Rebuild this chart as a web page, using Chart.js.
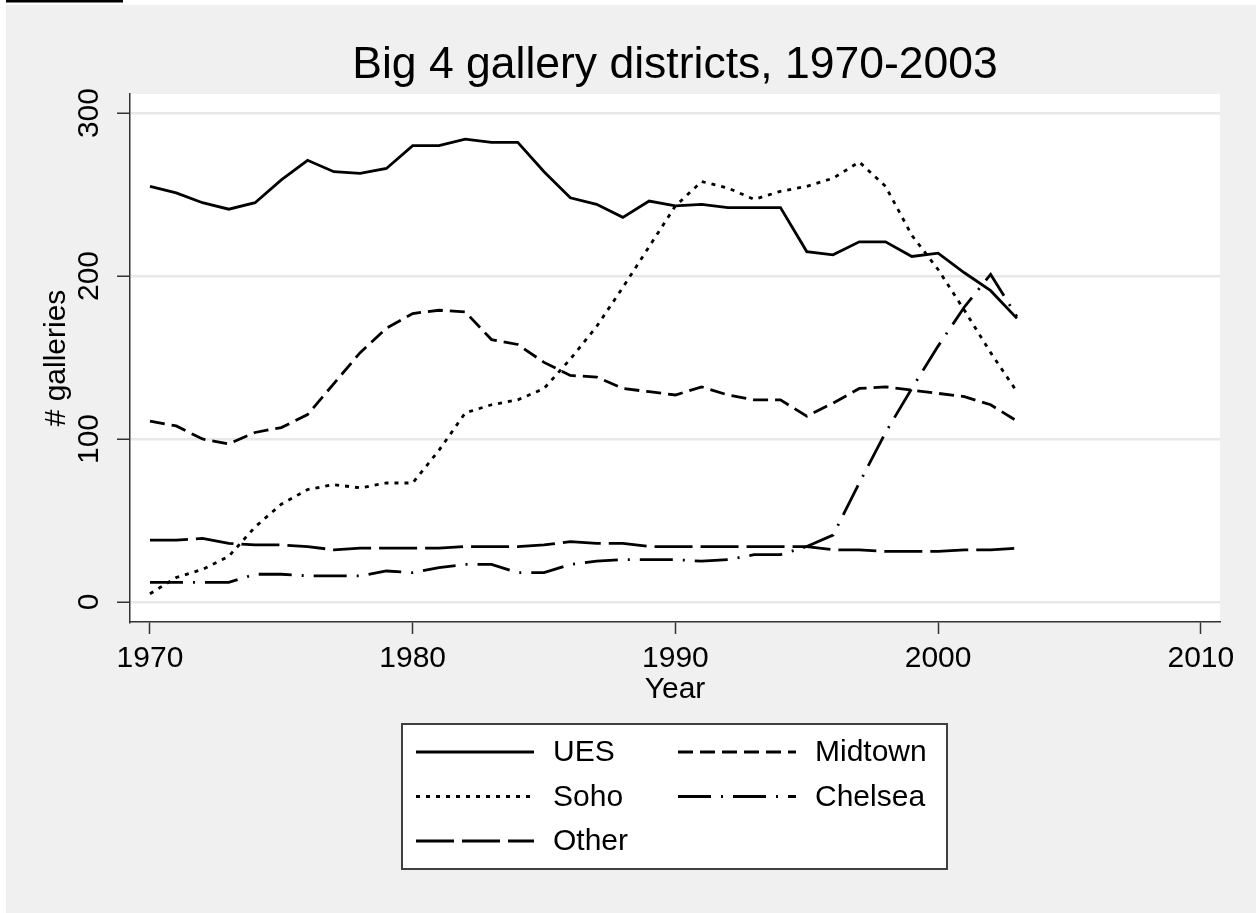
<!DOCTYPE html>
<html>
<head>
<meta charset="utf-8">
<title>Big 4 gallery districts, 1970-2003</title>
<script src="https://cdn.jsdelivr.net/npm/chart.js@4.4.1/dist/chart.umd.min.js"></script>
<style>
    html, body { margin: 0; padding: 0; background: #ffffff; }
    #wrap { width: 1256px; height: 913px; position: relative; }
</style>
</head>
<body>
<div id="wrap"><canvas id="galleryChart" width="1256" height="913"></canvas></div>
<script>
// Years on the x axis
const years = [1970, 1971, 1972, 1973, 1974, 1975, 1976, 1977, 1978, 1979,
               1980, 1981, 1982, 1983, 1984, 1985, 1986, 1987, 1988, 1989,
               1990, 1991, 1992, 1993, 1994, 1995, 1996, 1997, 1998, 1999,
               2000, 2001, 2002, 2003];

// # galleries per district
const ues     = [255, 251, 245, 241, 245, 259, 271, 264, 263, 266,
                 280, 280, 284, 282, 282, 264, 248, 244, 236, 246,
                 243, 244, 242, 242, 242, 215, 213, 221, 221, 212,
                 214, 202, 191, 174];
const midtown = [111, 108, 100, 97, 104, 107, 115, 134, 153, 168,
                 177, 179, 178, 161, 158, 147, 139, 138, 131, 129,
                 127, 132, 127, 124, 124, 114, 122, 131, 132, 130,
                 128, 126, 121, 111];
const soho    = [5, 15, 20, 28, 46, 60, 69, 72, 70, 73,
                 73, 93, 116, 121, 124, 131, 149, 169, 193, 218,
                 243, 258, 254, 247, 252, 255, 260, 270, 255, 225,
                 204, 179, 153, 129];
const chelsea = [12, 12, 12, 12, 17, 17, 16, 16, 16, 19,
                 18, 21, 23, 23, 18, 18, 23, 25, 26, 26,
                 26, 25, 26, 29, 29, 34, 41, 73, 104, 131,
                 157, 181, 201, 175];
const other   = [38, 38, 39, 36, 35, 35, 34, 32, 33, 33,
                 33, 33, 34, 34, 34, 35, 37, 36, 36, 34,
                 34, 34, 34, 34, 34, 34, 32, 32, 31, 31,
                 31, 32, 32, 33];

// Tick labels
const xTicks = [1970, 1980, 1990, 2000, 2010];
const yTicks = [0, 100, 200, 300];

const FONT = "'Liberation Sans', Arial, sans-serif";

function pts(vals) {
    return vals.map((v, i) => ({ x: years[i], y: v }));
}

function series(label, vals, dash) {
    return {
        label: label,
        data: pts(vals),
        borderColor: '#000000',
        borderWidth: 2.8,
        borderDash: dash,
        pointRadius: 0,
        tension: 0,
        fill: false
    };
}

// gray graph region, white plot region
const backdrop = {
    id: 'backdrop',
    beforeDraw(chart) {
        const c = chart.ctx;
        const a = chart.chartArea;
        c.save();
        c.fillStyle = '#ffffff';
        c.fillRect(0, 0, chart.width, chart.height);
        c.fillStyle = '#000000';
        c.fillRect(6, 0, 117, 2.5);
        c.fillStyle = '#f0f0f0';
        c.fillRect(6, 5, chart.width - 6, chart.height - 5);
        c.fillStyle = '#ffffff';
        c.fillRect(a.left, a.top, a.right - a.left, a.bottom - a.top);
        c.restore();
    }
};

// Stata style boxed legend, two columns
const boxLegend = {
    id: 'boxLegend',
    afterDraw(chart) {
        const c = chart.ctx;
        const ds = chart.data.datasets;
        c.save();
        c.fillStyle = '#ffffff';
        c.fillRect(402, 724, 545, 145);
        c.strokeStyle = '#404040';
        c.lineWidth = 2;
        c.strokeRect(402, 724, 545, 145);
        c.font = '30px ' + FONT;
        c.textBaseline = 'middle';
        c.textAlign = 'left';
        ds.forEach((d, i) => {
            const col = i % 2;
            const row = Math.floor(i / 2);
            const x0 = col === 0 ? 416 : 678;
            const y = 752 + row * 44.5;
            c.beginPath();
            c.setLineDash(d.borderDash || []);
            c.strokeStyle = '#000000';
            c.lineWidth = d.borderWidth;
            c.moveTo(x0, y);
            c.lineTo(x0 + 118, y);
            c.stroke();
            c.setLineDash([]);
            c.fillStyle = '#000000';
            c.fillText(d.label, x0 + 137, y + 1);
        });
        c.restore();
    }
};

new Chart(document.getElementById('galleryChart'), {
    type: 'line',
    data: {
        datasets: [
            series('UES', ues, []),
            series('Midtown', midtown, [15, 7]),
            series('Soho', soho, [4, 6]),
            series('Chelsea', chelsea, [33, 10, 2, 10]),
            series('Other', other, [38, 8])
        ]
    },
    options: {
        responsive: false,
        animation: false,
        layout: {
            padding: { top: 0, left: 0, right: 36, bottom: 201 }
        },
        plugins: {
            legend: { display: false },
            tooltip: { enabled: false },
            title: {
                display: true,
                fullSize: false,
                text: 'Big 4 gallery districts, 1970-2003',
                color: '#000000',
                font: { family: FONT, size: 44.5, weight: 'normal', lineHeight: 1.2 },
                padding: { top: 39, bottom: 1.6 }
            }
        },
        scales: {
            x: {
                type: 'linear',
                min: 1969.24,
                max: 2010.73,
                afterBuildTicks: s => { s.ticks = xTicks.map(v => ({ value: v })); },
                afterFit: s => { s.height = 90; },
                grid: {
                    drawOnChartArea: false,
                    drawTicks: true,
                    tickLength: 12,
                    tickColor: '#333333',
                    tickWidth: 1.5
                },
                border: { display: true, color: '#333333', width: 1.5 },
                ticks: {
                    color: '#000000',
                    padding: 7,
                    maxRotation: 0,
                    font: { family: FONT, size: 30 },
                    callback: v => String(v)
                },
                title: {
                    display: true,
                    text: 'Year',
                    color: '#000000',
                    font: { family: FONT, size: 30, lineHeight: 1.2 },
                    padding: { top: 0, bottom: 4 }
                }
            },
            y: {
                type: 'linear',
                min: -12.3,
                max: 311.7,
                afterBuildTicks: s => { s.ticks = yTicks.map(v => ({ value: v })); },
                afterFit: s => { s.width = 130; },
                grid: {
                    color: '#e8e8e8',
                    lineWidth: 2.5,
                    drawTicks: true,
                    tickLength: 13,
                    tickColor: '#333333',
                    tickWidth: 1.5
                },
                border: { display: true, color: '#333333', width: 1.5 },
                ticks: {
                    color: '#000000',
                    padding: 2,
                    minRotation: 90,
                    maxRotation: 90,
                    crossAlign: 'center',
                    font: { family: FONT, size: 30 },
                    callback: v => String(v)
                },
                title: {
                    display: true,
                    text: '# galleries',
                    color: '#000000',
                    font: { family: FONT, size: 30, lineHeight: 1.2 },
                    padding: { top: 38.5, bottom: 0 }
                }
            }
        }
    },
    plugins: [backdrop, boxLegend]
});
</script>
</body>
</html>
